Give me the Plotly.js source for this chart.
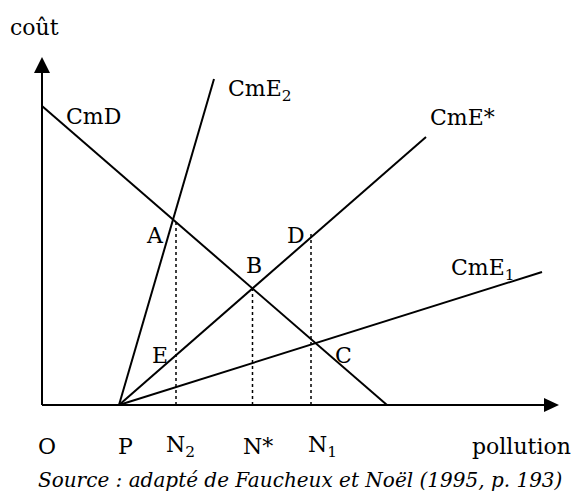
<!DOCTYPE html>
<html>
<head>
<meta charset="utf-8">
<script src="https://cdn.plot.ly/plotly-3.0.1.min.js"></script>
<style>
  html, body { margin: 0; padding: 0; background: #fff; }
  #chart { width: 576px; height: 492px; }
</style>
</head>
<body>
<div id="chart"></div>
<script>
// ---- Data (units: arbitrary pollution / cost units) ----
const P = 7.7;                                   // pollution threshold P
const curveNames = ['CmD', 'CmE<sub>2</sub>', 'CmE*', 'CmE<sub>1</sub>'];
const curveX = [[0, 34.5], [P, 17.2], [P, 38.4], [P, 50.0]];
const curveY = [[29.9, 0], [0, 32.6], [0, 26.8], [0, 13.3]];

const guideNames = ['N2', 'N*', 'N1'];
const guideX = [13.4, 21.05, 26.9];
const guideTop = [18.6, 11.7, 17.1];

const pointLabels = ['A', 'B', 'C', 'D', 'E'];
const xTickText = ['O', 'P', 'N<sub>2</sub>', 'N*', 'N<sub>1</sub>', 'pollution'];
const xTickVals = [0.5, 8.3, 13.8, 21.6, 28.0, 47.9];

const xAxisMax = 51.7;
const yAxisMax = 34.8;
const yTitle = 'coût';
const sourceText = 'Source : adapté de Faucheux et Noël (1995, p. 193)';

// ---- Build traces ----
const black = '#000';
const traces = [];
// axes
traces.push({x: [0, xAxisMax - 1.5], y: [0, 0], mode: 'lines', line: {color: black, width: 2}, hoverinfo: 'skip'});
traces.push({x: [0, 0], y: [0, yAxisMax - 1.6], mode: 'lines', line: {color: black, width: 2}, hoverinfo: 'skip'});
// curves
curveX.forEach((xs, i) => {
  traces.push({x: xs, y: curveY[i], mode: 'lines', name: curveNames[i], line: {color: black, width: 2}, hoverinfo: 'skip'});
});
// dotted guides
guideX.forEach((gx, i) => {
  traces.push({x: [gx, gx], y: [0, guideTop[i]], mode: 'lines', name: guideNames[i], line: {color: black, width: 1.5, dash: 'dot'}, hoverinfo: 'skip'});
});

const FONT = 'DejaVu Serif';
const fs = 22;
function ann(text, x, y, opts) {
  return Object.assign({text: text, x: x, y: y, xref: 'x', yref: 'y', showarrow: false,
    xanchor: 'center', yanchor: 'middle', font: {family: FONT, size: fs, color: black}}, opts || {});
}

const annotations = [];
annotations.push(ann(yTitle, -0.8, 37.8));
// curve labels
annotations.push(ann(curveNames[0], 2.2, 28.9, {xanchor: 'left'}));
annotations.push(ann(curveNames[1], 18.4, 31.5, {xanchor: 'left'}));
annotations.push(ann(curveNames[2], 38.6, 28.8, {xanchor: 'left'}));
annotations.push(ann(curveNames[3], 40.7, 13.6, {xanchor: 'left'}));
// point labels
const pointPos = [[11.3, 17.0], [21.2, 14.0], [30.1, 5.0], [25.4, 17.0], [11.8, 5.0]];
pointLabels.forEach((t, i) => annotations.push(ann(t, pointPos[i][0], pointPos[i][1])));
// x labels
xTickText.forEach((t, i) => annotations.push(ann(t, xTickVals[i], -4.1)));
// source
annotations.push(ann(sourceText, 25.8, -7.5, {font: {family: FONT, size: 20, color: black, style: 'italic'}}));

const shapes = [
  {type: 'path', xref: 'x', yref: 'y', path: `M 0 ${yAxisMax} L -0.8 ${yAxisMax - 1.6} L 0.8 ${yAxisMax - 1.6} Z`, fillcolor: black, line: {width: 0}},
  {type: 'path', xref: 'x', yref: 'y', path: `M ${xAxisMax} 0 L ${xAxisMax - 1.5} 0.7 L ${xAxisMax - 1.5} -0.7 Z`, fillcolor: black, line: {width: 0}}
];

const layout = {
  width: 576, height: 492,
  margin: {l: 0, r: 0, t: 0, b: 0},
  paper_bgcolor: '#fff', plot_bgcolor: '#fff',
  showlegend: false,
  xaxis: {range: [-4.2, 53.4], visible: false, fixedrange: true},
  yaxis: {range: [-8.7, 40.5], visible: false, fixedrange: true},
  annotations: annotations,
  shapes: shapes
};

Plotly.newPlot('chart', traces, layout, {displayModeBar: false, staticPlot: true});
</script>
</body>
</html>
